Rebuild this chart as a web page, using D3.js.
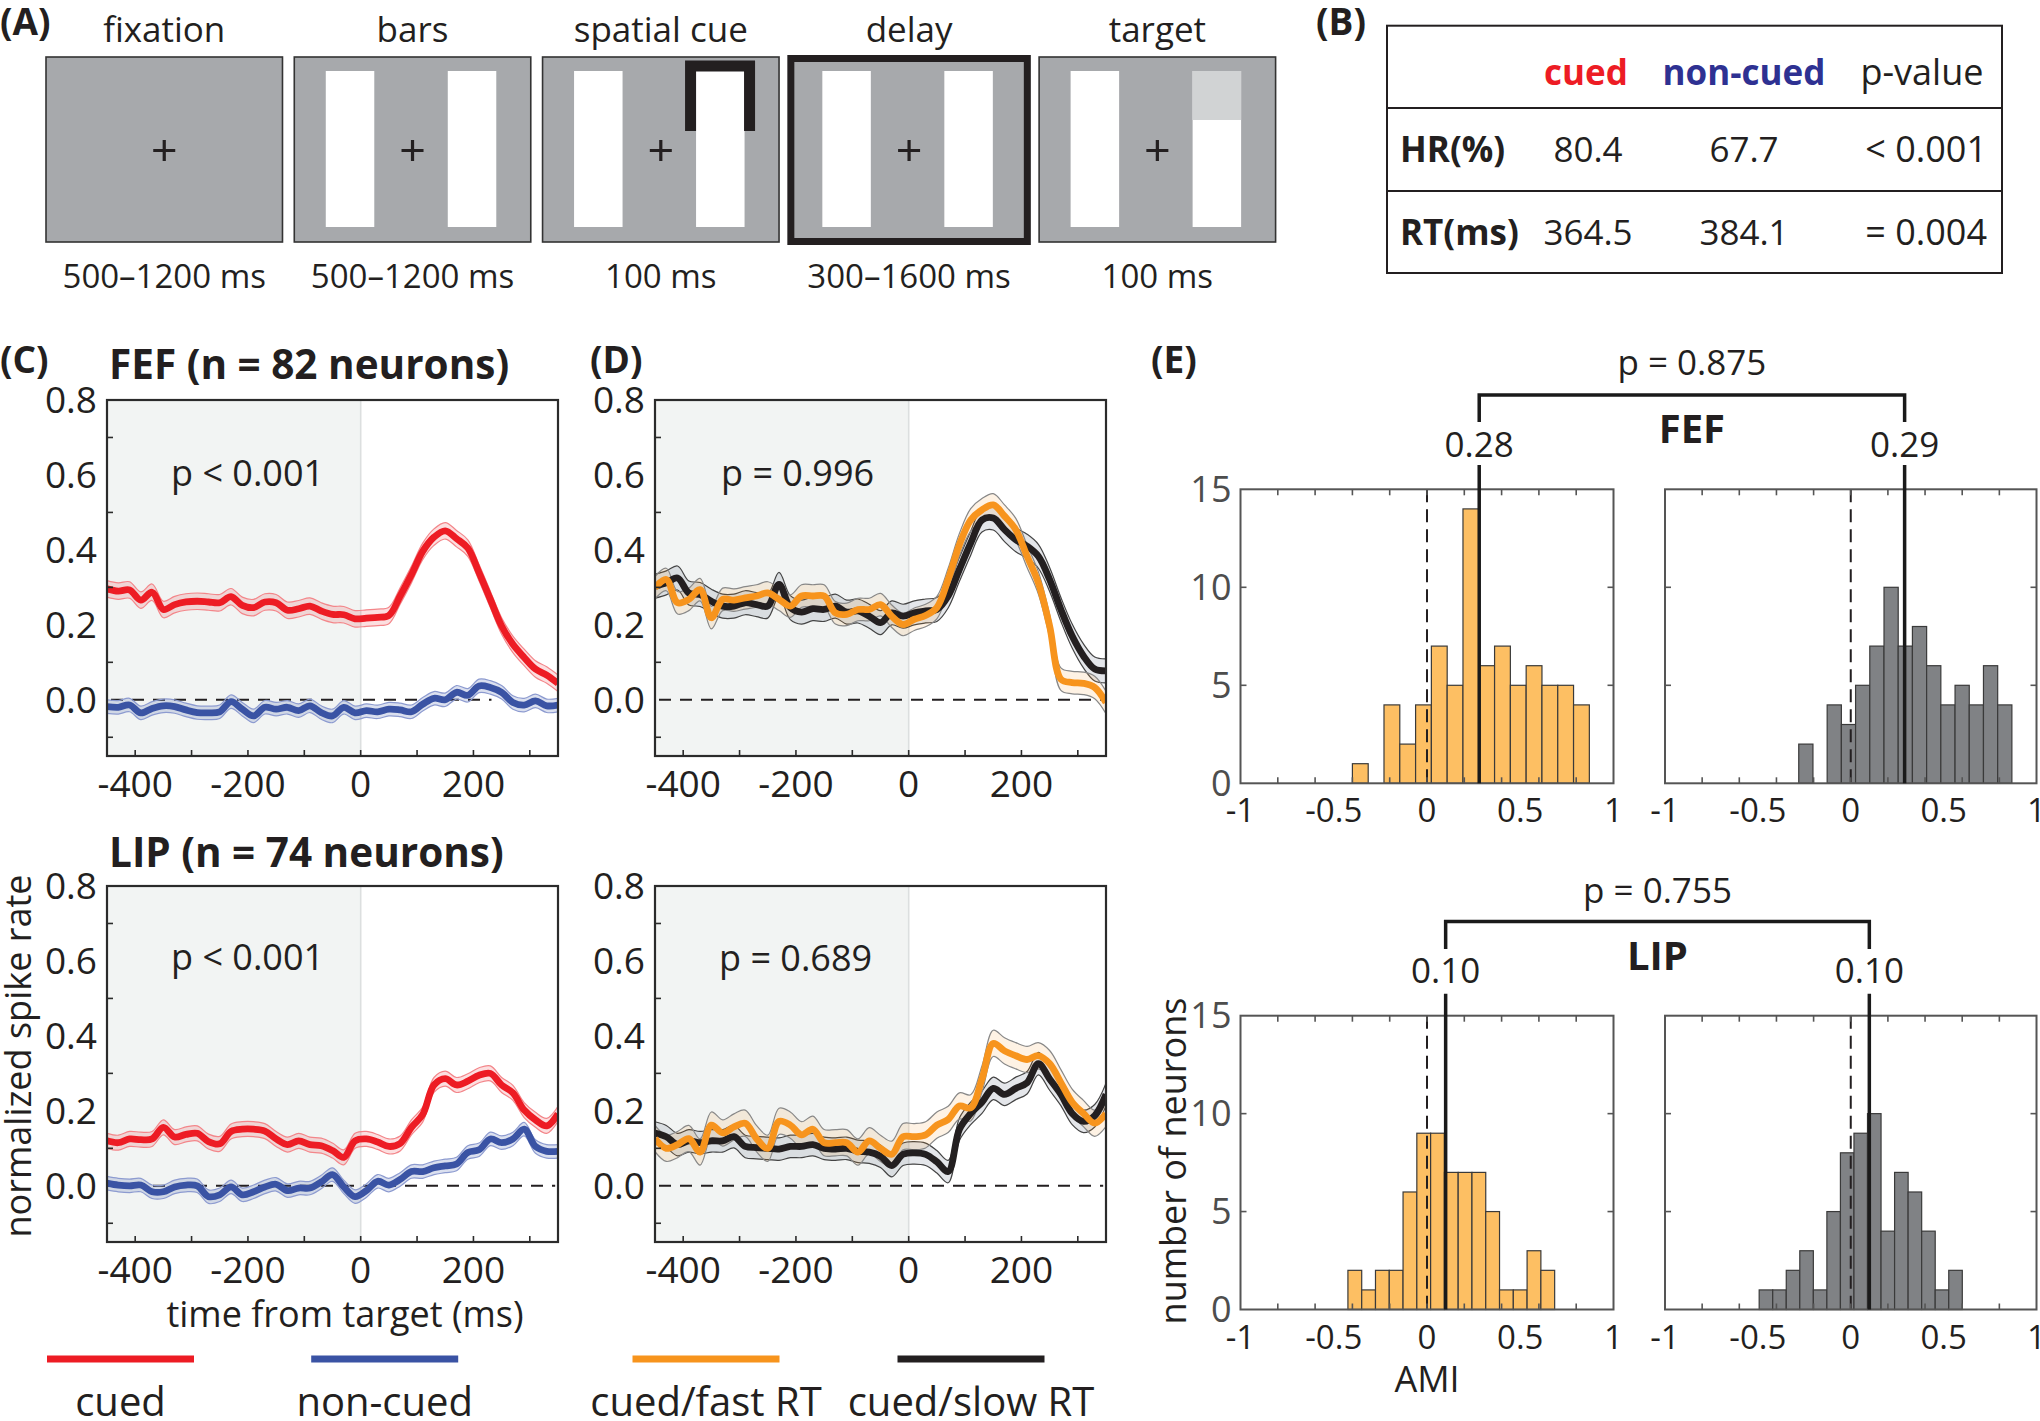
<!DOCTYPE html>
<html><head><meta charset="utf-8">
<script src="https://cdn.jsdelivr.net/npm/d3@7"></script>
<style>
body{margin:0;background:#fff}
svg{display:block}
text{font-family:'Open Sans','DejaVu Sans',sans-serif;fill:#231f20}
</style>
</head><body>
<svg id="chart" width="2040" height="1421"></svg>
<script>
// ---------------- DATA ----------------
// Panel A
const stageNames = ["fixation", "bars", "spatial cue", "delay", "target"];
const stageDurations = ["500–1200 ms", "500–1200 ms", "100 ms", "300–1600 ms", "100 ms"];

// Panel B
const tableHeaders = ["cued", "non-cued", "p-value"];
const tableRowLabels = ["HR(%)", "RT(ms)"];
const tableCued = ["80.4", "364.5"];
const tableNonCued = ["67.7", "384.1"];
const tablePValues = ["< 0.001", "= 0.004"];

// Panels C / D : time from target (ms)
const timeMs = [-450,-430,-410,-390,-370,-350,-330,-310,-290,-270,-250,-230,-210,-190,-170,-150,-130,-110,-90,-70,-50,-30,-10,10,30,50,70,90,110,130,150,170,190,210,230,250,270,290,310,330,350];
const timeTicks = [-400, -200, 0, 200];
const rateTicks = [0, 0.2, 0.4, 0.6, 0.8];

const fefCued = [0.296,0.290,0.293,0.266,0.287,0.241,0.254,0.261,0.263,0.261,0.259,0.275,0.252,0.246,0.261,0.259,0.239,0.243,0.250,0.237,0.228,0.227,0.216,0.218,0.220,0.225,0.277,0.334,0.396,0.434,0.451,0.430,0.405,0.339,0.268,0.197,0.148,0.113,0.082,0.066,0.044];
const fefNonCued = [-0.018,-0.020,-0.014,-0.035,-0.023,-0.016,-0.018,-0.027,-0.034,-0.035,-0.032,-0.005,-0.025,-0.043,-0.020,-0.025,-0.020,-0.029,-0.016,-0.034,-0.043,-0.020,-0.035,-0.029,-0.032,-0.025,-0.027,-0.032,-0.012,0.004,0.000,0.020,0.012,0.037,0.033,0.020,-0.007,-0.014,-0.003,-0.016,-0.014];
const lipCued = [0.120,0.115,0.125,0.123,0.125,0.156,0.130,0.137,0.140,0.118,0.112,0.145,0.151,0.151,0.146,0.125,0.110,0.120,0.110,0.107,0.094,0.076,0.120,0.125,0.117,0.105,0.113,0.156,0.190,0.269,0.286,0.269,0.279,0.295,0.300,0.269,0.248,0.202,0.176,0.160,0.192];
const lipNonCued = [0.007,0.002,0.000,0.002,-0.016,-0.016,-0.003,0.002,0.000,-0.029,-0.024,-0.003,-0.024,-0.016,-0.003,0.004,-0.013,-0.006,-0.006,0.010,0.030,-0.003,-0.029,-0.013,0.012,0.002,0.017,0.038,0.038,0.048,0.053,0.058,0.089,0.096,0.125,0.115,0.125,0.151,0.105,0.092,0.092];
const fefFast = [0.299,0.321,0.259,0.268,0.294,0.219,0.268,0.266,0.272,0.277,0.285,0.268,0.250,0.277,0.277,0.277,0.232,0.228,0.241,0.241,0.254,0.223,0.201,0.215,0.225,0.246,0.321,0.414,0.480,0.507,0.520,0.490,0.454,0.383,0.312,0.197,0.055,0.046,0.044,0.033,-0.007];
const fefSlow = [0.303,0.312,0.325,0.285,0.281,0.263,0.250,0.250,0.259,0.254,0.250,0.308,0.246,0.234,0.243,0.241,0.250,0.234,0.237,0.223,0.206,0.232,0.223,0.232,0.237,0.241,0.277,0.348,0.418,0.480,0.485,0.454,0.427,0.410,0.383,0.321,0.241,0.170,0.117,0.082,0.077];
const lipFast = [0.126,0.100,0.110,0.126,0.090,0.162,0.141,0.157,0.167,0.126,0.100,0.172,0.162,0.136,0.151,0.115,0.115,0.115,0.090,0.120,0.100,0.084,0.131,0.131,0.136,0.162,0.177,0.213,0.208,0.285,0.380,0.360,0.347,0.337,0.347,0.326,0.275,0.223,0.193,0.167,0.193];
const lipSlow = [0.141,0.131,0.110,0.120,0.115,0.120,0.120,0.131,0.105,0.102,0.100,0.098,0.105,0.105,0.110,0.100,0.098,0.100,0.092,0.090,0.079,0.054,0.084,0.088,0.084,0.064,0.038,0.151,0.193,0.223,0.260,0.244,0.260,0.275,0.326,0.285,0.244,0.193,0.172,0.187,0.244];

// band half-widths (s.e.m.)
const semFefCued = 0.022, semFefNon = 0.018, semLipCued = 0.020, semLipNon = 0.018;
const semFefFast = 0.030, semFefSlow = 0.032, semLipFast = 0.035, semLipSlow = 0.030;

// Panel E : AMI histograms
const amiTicks = [-1, -0.5, 0, 0.5, 1];
const countTicks = [0, 5, 10, 15];
const fefFastCounts = [1,0,4,2,4,7,5,14,6,7,5,6,5,5,4];
const fefSlowCounts = [2,0,4,3,5,7,10,7,8,6,4,5,4,6,4];
const lipFastCounts = [2,1,2,2,6,9,9,7,7,7,5,1,1,3,2];
const lipSlowCounts = [1,1,2,3,1,5,8,9,10,4,7,6,4,1,2];
const fefFastBin = {start: -0.40, width: 0.0847};
const fefSlowBin = {start: -0.28, width: 0.0765};
const lipFastBin = {start: -0.424, width: 0.0739};
const lipSlowBin = {start: -0.493, width: 0.0729};
const fefMedians = [0.28, 0.29];
const lipMedians = [0.10, 0.10];
const fefPValue = "p = 0.875";
const lipPValue = "p = 0.755";

// Legend
const legendLabels = ["cued", "non-cued", "cued/fast RT", "cued/slow RT"];

// ---------------- STYLE / LAYOUT ----------------
const RED = "#ed1c24", BLUE = "#3a53a4", ORANGE = "#f7941d", BLACK = "#231f20";
const legendColors = [RED, BLUE, ORANGE, BLACK];
const legendCenters = [120.5, 384.7, 706, 971];

const svg = d3.select("#chart");
svg.append("rect").attr("width", 2040).attr("height", 1421).attr("fill", "#fff");

function txt(g, x, y, s, o = {}) {
  const t = g.append("text").attr("x", x).attr("y", y).text(s)
    .attr("font-size", o.size || 34)
    .attr("text-anchor", o.anchor || "start");
  if (o.bold) t.attr("font-weight", "bold");
  if (o.fill) t.style("fill", o.fill);
  if (o.dy) t.attr("dy", o.dy);
  return t;
}

// ---------------- PANEL A ----------------
const gA = svg.append("g");
txt(gA, 0, 35, "(A)", {size: 37, bold: true});
const band = d3.scaleBand().domain(stageNames).range([46, 1275.6]).paddingInner(0.0475);
stageNames.forEach((name, i) => {
  const L = band(name), W = band.bandwidth(), cx = L + W / 2;
  if (name === "delay") {
    gA.append("rect").attr("x", L).attr("y", 58.5).attr("width", W).attr("height", 183)
      .attr("fill", "#a7a9ac").attr("stroke", BLACK).attr("stroke-width", 7);
  } else {
    gA.append("rect").attr("x", L).attr("y", 57).attr("width", W).attr("height", 185)
      .attr("fill", "#a7a9ac").attr("stroke", "#333").attr("stroke-width", 1.6);
  }
  if (i > 0) {
    gA.append("rect").attr("x", L + 31.5).attr("y", 71).attr("width", 48.5).attr("height", 156).attr("fill", "#fff");
    gA.append("rect").attr("x", L + 153.5).attr("y", 71).attr("width", 48.5).attr("height", 156).attr("fill", "#fff");
  }
  if (name === "spatial cue") {
    gA.append("path").attr("d", `M${L + 148},131 V66 H${L + 207} V131`)
      .attr("fill", "none").attr("stroke", BLACK).attr("stroke-width", 11).attr("stroke-linejoin", "miter");
  }
  if (name === "target") {
    gA.append("rect").attr("x", L + 153.5).attr("y", 71).attr("width", 48.5).attr("height", 49).attr("fill", "#d1d3d4");
  }
  gA.append("path").attr("d", `M${cx - 11},150.5 H${cx + 11} M${cx},140 V161`)
    .attr("stroke", BLACK).attr("stroke-width", 3.2);
  txt(gA, cx, 42, name, {size: 35, anchor: "middle"});
  txt(gA, cx, 288, stageDurations[i], {size: 33, anchor: "middle"});
});

// ---------------- PANEL B ----------------
const gB = svg.append("g");
txt(gB, 1316, 35, "(B)", {size: 37, bold: true});
gB.append("rect").attr("x", 1387).attr("y", 25.7).attr("width", 615).attr("height", 247.3)
  .attr("fill", "none").attr("stroke", BLACK).attr("stroke-width", 2);
[108, 191].forEach(yy => gB.append("line").attr("x1", 1387).attr("x2", 2002).attr("y1", yy).attr("y2", yy)
  .attr("stroke", BLACK).attr("stroke-width", 2));
txt(gB, 1586, 85, tableHeaders[0], {size: 35, bold: true, anchor: "middle", fill: RED});
txt(gB, 1744, 85, tableHeaders[1], {size: 35, bold: true, anchor: "middle", fill: "#2e3192"});
txt(gB, 1922, 85, tableHeaders[2], {size: 36, anchor: "middle"});
tableRowLabels.forEach((lab, i) => {
  const yy = [162, 245][i];
  txt(gB, 1400, yy, lab, {size: 35, bold: true});
  txt(gB, 1588, yy, tableCued[i], {size: 35, anchor: "middle"});
  txt(gB, 1744, yy, tableNonCued[i], {size: 35, anchor: "middle"});
  txt(gB, 1987, yy, tablePValues[i], {size: 36, anchor: "end"});
});

// ---------------- PANELS C / D ----------------
let clipId = 0;
function tsPanel(p) {
  const x = d3.scaleLinear().domain([-450, 350]).range([p.x0, p.x1]);
  const y = d3.scaleLinear().domain([-0.15, 0.8]).range([p.y1, p.y0]);
  const g = svg.append("g");
  const id = "clip" + (clipId++);
  svg.append("clipPath").attr("id", id).append("rect")
    .attr("x", p.x0).attr("y", p.y0).attr("width", p.x1 - p.x0).attr("height", p.y1 - p.y0);
  g.append("rect").attr("x", x(-450)).attr("y", p.y0).attr("width", x(0) - x(-450)).attr("height", p.y1 - p.y0)
    .attr("fill", "#f2f4f3");
  g.append("line").attr("x1", x(0)).attr("x2", x(0)).attr("y1", p.y0).attr("y2", p.y1)
    .attr("stroke", "#dcdfdf").attr("stroke-width", 1.6);
  g.append("line").attr("x1", p.x0 + 4).attr("x2", x(p.dashEnd)).attr("y1", y(0)).attr("y2", y(0))
    .attr("stroke", "#231f20").attr("stroke-width", 2).attr("stroke-dasharray", "12,9");
  const cg = g.append("g").attr("clip-path", `url(#${id})`);
  const curve = d3.curveCatmullRom.alpha(0.5);
  p.series.forEach(s => {
    const pts = timeMs.map((t, i) => ({t, v: s.values[i]}));
    const area = d3.area().x(d => x(d.t)).y0(d => y(d.v - s.sem)).y1(d => y(d.v + s.sem)).curve(curve);
    cg.append("path").attr("d", area(pts)).attr("fill", s.bandFill);
    [-1, 1].forEach(sg => {
      const edge = d3.line().x(d => x(d.t)).y(d => y(d.v + sg * s.sem)).curve(curve);
      cg.append("path").attr("d", edge(pts)).attr("fill", "none").attr("stroke", s.edge).attr("stroke-width", 1.2);
    });
  });
  p.series.forEach(s => {
    const pts = timeMs.map((t, i) => ({t, v: s.values[i]}));
    const line = d3.line().x(d => x(d.t)).y(d => y(d.v)).curve(curve);
    cg.append("path").attr("d", line(pts)).attr("fill", "none").attr("stroke", s.color)
      .attr("stroke-width", 6.8).attr("stroke-linejoin", "round");
  });
  g.append("rect").attr("x", p.x0).attr("y", p.y0).attr("width", p.x1 - p.x0).attr("height", p.y1 - p.y0)
    .attr("fill", "none").attr("stroke", "#2b2b2b").attr("stroke-width", 2.2);
  [-400, -300, -200, -100, 0, 100, 200, 300].forEach(t =>
    g.append("line").attr("x1", x(t)).attr("x2", x(t)).attr("y1", p.y1).attr("y2", p.y1 - 6)
      .attr("stroke", "#2b2b2b").attr("stroke-width", 1.6));
  [-0.1, 0.1, 0.3, 0.5, 0.7].forEach(v =>
    g.append("line").attr("x1", p.x0).attr("x2", p.x0 + 6).attr("y1", y(v)).attr("y2", y(v))
      .attr("stroke", "#2b2b2b").attr("stroke-width", 1.6));
  rateTicks.forEach(v => txt(g, p.x0 - 10, y(v), d3.format(".1f")(v), {size: 37, anchor: "end", dy: "0.35em"}));
  timeTicks.forEach(t => txt(g, x(t), p.y1 + 41, t < 0 ? "-" + Math.abs(t) : String(t), {size: 37, anchor: "middle"}));
  txt(g, p.pX, p.pY, p.pText, {size: 36});
}

const cBox = {x0: 107, x1: 558};
const dBox = {x0: 655, x1: 1106};
const topY = {y0: 400, y1: 756};
const botY = {y0: 886, y1: 1242};

tsPanel({...cBox, ...topY, dashEnd: 232, pText: "p < 0.001", pX: 171, pY: 486, series: [
  {values: fefNonCued, sem: semFefNon, color: BLUE, bandFill: "rgba(58,83,164,0.18)", edge: "#8d9bd0"},
  {values: fefCued, sem: semFefCued, color: RED, bandFill: "rgba(237,28,36,0.14)", edge: "#f3868a"}]});
tsPanel({...dBox, ...topY, dashEnd: 345, pText: "p = 0.996", pX: 721, pY: 486, series: [
  {values: fefSlow, sem: semFefSlow, color: BLACK, bandFill: "rgba(120,130,150,0.2)", edge: "#444"},
  {values: fefFast, sem: semFefFast, color: ORANGE, bandFill: "rgba(247,148,29,0.12)", edge: "#888"}]});
tsPanel({...cBox, ...botY, dashEnd: 345, pText: "p < 0.001", pX: 171, pY: 970, series: [
  {values: lipNonCued, sem: semLipNon, color: BLUE, bandFill: "rgba(58,83,164,0.18)", edge: "#8d9bd0"},
  {values: lipCued, sem: semLipCued, color: RED, bandFill: "rgba(237,28,36,0.14)", edge: "#f3868a"}]});
tsPanel({...dBox, ...botY, dashEnd: 345, pText: "p = 0.689", pX: 719, pY: 971, series: [
  {values: lipSlow, sem: semLipSlow, color: BLACK, bandFill: "rgba(120,130,150,0.2)", edge: "#444"},
  {values: lipFast, sem: semLipFast, color: ORANGE, bandFill: "rgba(247,148,29,0.12)", edge: "#888"}]});

const gCD = svg.append("g");
txt(gCD, 0, 373, "(C)", {size: 37, bold: true});
txt(gCD, 590, 373, "(D)", {size: 37, bold: true});
txt(gCD, 109, 379, "FEF (n = 82 neurons)", {size: 40.5, bold: true});
txt(gCD, 109, 867, "LIP (n = 74 neurons)", {size: 40.5, bold: true});
txt(gCD, 345, 1327, "time from target (ms)", {size: 36, anchor: "middle"});
txt(gCD, 0, 0, "normalized spike rate", {size: 36, anchor: "middle"})
  .attr("transform", "translate(31,1056) rotate(-90)");

// Legend
legendLabels.forEach((lab, i) => {
  const cx = legendCenters[i];
  gCD.append("line").attr("x1", cx - 73.5).attr("x2", cx + 73.5).attr("y1", 1359).attr("y2", 1359)
    .attr("stroke", legendColors[i]).attr("stroke-width", 7);
  txt(gCD, cx, 1416, lab, {size: 40, anchor: "middle"});
});

// ---------------- PANEL E ----------------
function hist(p) {
  const x = d3.scaleLinear().domain([-1, 1]).range([p.x0, p.x1]);
  const y = d3.scaleLinear().domain([0, 15]).range([p.y1, p.y0]);
  const g = svg.append("g");
  const bins = p.counts.map((c, i) => ({a: p.bin.start + i * p.bin.width, b: p.bin.start + (i + 1) * p.bin.width, c}));
  g.selectAll("rect.bar").data(bins.filter(d => d.c > 0)).join("rect")
    .attr("x", d => x(d.a)).attr("width", d => x(d.b) - x(d.a))
    .attr("y", d => y(d.c)).attr("height", d => y(0) - y(d.c))
    .attr("fill", p.fill).attr("stroke", "#3a3a3a").attr("stroke-width", 1.2);
  g.append("line").attr("x1", x(0)).attr("x2", x(0)).attr("y1", p.y0).attr("y2", p.y1)
    .attr("stroke", "#231f20").attr("stroke-width", 2).attr("stroke-dasharray", "13,7");
  g.append("rect").attr("x", p.x0).attr("y", p.y0).attr("width", p.x1 - p.x0).attr("height", p.y1 - p.y0)
    .attr("fill", "none").attr("stroke", "#555").attr("stroke-width", 2);
  [-0.8, -0.6, -0.4, -0.2, 0, 0.2, 0.4, 0.6, 0.8].forEach(v => {
    g.append("line").attr("x1", x(v)).attr("x2", x(v)).attr("y1", p.y1).attr("y2", p.y1 - 6).attr("stroke", "#555").attr("stroke-width", 1.6);
    g.append("line").attr("x1", x(v)).attr("x2", x(v)).attr("y1", p.y0).attr("y2", p.y0 + 6).attr("stroke", "#555").attr("stroke-width", 1.6);
  });
  [5, 10].forEach(v => {
    g.append("line").attr("x1", p.x0).attr("x2", p.x0 + 6).attr("y1", y(v)).attr("y2", y(v)).attr("stroke", "#555").attr("stroke-width", 1.6);
    g.append("line").attr("x1", p.x1).attr("x2", p.x1 - 6).attr("y1", y(v)).attr("y2", y(v)).attr("stroke", "#555").attr("stroke-width", 1.6);
  });
  amiTicks.forEach(v => txt(g, x(v), p.y1 + 39, String(v), {size: 33, anchor: "middle"}));
  if (p.yLabels) countTicks.forEach(v => txt(g, p.x0 - 9, y(v), String(v), {size: 36, anchor: "end", dy: "0.35em", fill: "#4d4d4d"}));
  g.append("line").attr("x1", x(p.median)).attr("x2", x(p.median)).attr("y1", p.medTop).attr("y2", p.y1)
    .attr("stroke", "#1a1a1a").attr("stroke-width", 3.5);
  txt(g, x(p.median), p.medLabelY, d3.format(".2f")(p.median), {size: 35, anchor: "middle"});
  return x;
}

const eLeft = {x0: 1240.5, x1: 1613.5};
const eRight = {x0: 1665, x1: 2036.5};
const fefY = {y0: 489.3, y1: 783.3, medTop: 465, medLabelY: 457};
const lipY = {y0: 1015.7, y1: 1309.5, medTop: 993.7, medLabelY: 983};

const gE = svg.append("g");
txt(gE, 1151, 373, "(E)", {size: 37, bold: true});

function region(yy, counts, bins, meds, pText, label, br) {
  const xl = hist({...eLeft, ...yy, counts: counts[0], bin: bins[0], fill: "#fdbf63", median: meds[0], yLabels: true});
  const xr = hist({...eRight, ...yy, counts: counts[1], bin: bins[1], fill: "#808285", median: meds[1], yLabels: false});
  const a = xl(meds[0]), b = xr(meds[1]);
  gE.append("path").attr("d", `M${a},${br.end} V${br.bar} H${b} V${br.end}`)
    .attr("fill", "none").attr("stroke", "#1a1a1a").attr("stroke-width", 3.5);
  txt(gE, (a + b) / 2, br.pY, pText, {size: 35, anchor: "middle"});
  txt(gE, (a + b) / 2, br.labY, label, {size: 40, bold: true, anchor: "middle"});
  return xl;
}
region(fefY, [fefFastCounts, fefSlowCounts], [fefFastBin, fefSlowBin], fefMedians, fefPValue, "FEF",
  {bar: 395, end: 422, pY: 375, labY: 443});
const xl = region(lipY, [lipFastCounts, lipSlowCounts], [lipFastBin, lipSlowBin], lipMedians, lipPValue, "LIP",
  {bar: 921.5, end: 949, pY: 903, labY: 970});
txt(gE, xl(0), 1392, "AMI", {size: 36, anchor: "middle"});
txt(gE, 0, 0, "number of neurons", {size: 36, anchor: "middle"})
  .attr("transform", "translate(1186,1161) rotate(-90)");
</script>
</body></html>
